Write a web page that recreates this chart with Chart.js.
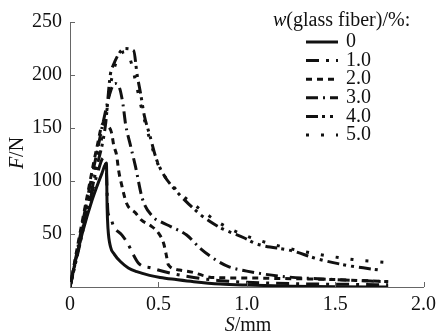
<!DOCTYPE html>
<html>
<head>
<meta charset="utf-8">
<script src="https://cdn.jsdelivr.net/npm/chart.js@4.4.1/dist/chart.umd.min.js"></script>
<style>
  body { margin: 0; background: #fff; }
</style>
</head>
<body>
<canvas id="forceChart" width="442" height="335"></canvas>
<script>
'use strict';

// w(glass fiber)/% series labels
var fiberLabels = ['0', '1.0', '2.0', '3.0', '4.0', '5.0'];

// S/mm and F/N
var s0 = [0, 0.03, 0.07, 0.125, 0.18, 0.206, 0.21, 0.215, 0.229, 0.25, 0.285, 0.33, 0.378, 0.45, 0.51, 0.6, 0.7, 0.85, 1.0, 1.25, 1.5, 1.8];
var f0 = [0, 24, 51, 82, 107, 117, 75, 55, 38, 31, 24, 18, 14.5, 11, 9, 7, 5, 2.8, 1.8, 0.8, 0.3, 0];

var s1 = [0, 0.05, 0.1, 0.15, 0.19, 0.205, 0.215, 0.228, 0.247, 0.294, 0.33, 0.36, 0.39, 0.46, 0.57, 0.7, 0.85, 1.0, 1.3, 1.6, 1.8];
var f1 = [0, 38, 74, 104, 122, 112, 70, 66, 57, 49, 40, 30, 22, 18, 13, 9, 6, 4.5, 3, 2.5, 2];

var s2 = [0, 0.05, 0.1, 0.15, 0.19, 0.215, 0.236, 0.247, 0.264, 0.275, 0.29, 0.32, 0.37, 0.405, 0.455, 0.5, 0.53, 0.545, 0.556, 0.62, 0.69, 0.75, 0.8, 1.0, 1.2, 1.5, 1.8];
var f2 = [0, 45, 88, 130, 155, 152, 145, 134, 124, 110, 98, 79, 70, 63, 58, 51, 41, 30, 21, 16, 14, 11, 9, 8.5, 8, 7, 5];

var s3 = [0, 0.05, 0.1, 0.15, 0.2, 0.23, 0.255, 0.28, 0.3, 0.315, 0.34, 0.37, 0.41, 0.47, 0.52, 0.57, 0.66, 0.74, 0.83, 0.9, 1.0, 1.2, 1.5, 1.8];
var f3 = [0, 42, 85, 125, 165, 185, 192, 188, 172, 153, 135, 114, 83, 66, 61, 57, 49, 36, 25, 19, 15, 10, 7, 5];

var s4 = [0, 0.05, 0.1, 0.15, 0.2, 0.228, 0.247, 0.28, 0.31, 0.36, 0.38, 0.4, 0.42, 0.45, 0.49, 0.53, 0.62, 0.68, 0.74, 0.79, 0.85, 0.99, 1.05, 1.26, 1.39, 1.58, 1.75];
var f4 = [0, 36, 74, 112, 152, 200, 210, 221, 225, 223, 200, 182, 162, 144, 120, 106, 87, 77, 68, 62, 56, 46, 41, 34, 27, 20, 16];

var s5 = [0, 0.05, 0.1, 0.15, 0.2, 0.24, 0.28, 0.31, 0.34, 0.37, 0.4, 0.45, 0.5, 0.6, 0.7, 0.85, 1.0, 1.2, 1.4, 1.6, 1.8];
var f5 = [0, 38, 78, 118, 158, 200, 218, 222, 215, 195, 172, 140, 115, 92, 78, 60, 48, 38, 31, 26, 23];

var xTicks = [0, 0.5, 1.0, 1.5, 2.0];
var yTicks = [50, 100, 150, 200, 250];

var seriesS = [s0, s1, s2, s3, s4, s5];
var seriesF = [f0, f1, f2, f3, f4, f5];
var dashes = [[], [13, 7, 3, 7], [6, 5], [12, 5, 2, 5], [12, 4, 3, 5, 3, 5], [3, 12]];

var serif = '"Liberation Serif", "DejaVu Serif", serif';

function drawMixed(ctx, parts, x, y, align) {
  var total = 0;
  parts.forEach(function (p) {
    ctx.font = p[0];
    total += ctx.measureText(p[1]).width;
  });
  var cx = align === 'left' ? x : x - total / 2;
  ctx.textAlign = 'left';
  ctx.textBaseline = 'middle';
  parts.forEach(function (p) {
    ctx.font = p[0];
    ctx.fillText(p[1], cx, y);
    cx += ctx.measureText(p[1]).width;
  });
}

var decorations = {
  id: 'decorations',
  afterDraw: function (chart) {
    var ctx = chart.ctx;
    var area = chart.chartArea;
    var xs = chart.scales.x;
    var ys = chart.scales.y;
    ctx.save();

    // inward tick marks
    ctx.strokeStyle = '#666';
    ctx.lineWidth = 1;
    yTicks.forEach(function (v) {
      var py = Math.round(ys.getPixelForValue(v)) + 0.5;
      ctx.beginPath();
      ctx.moveTo(area.left, py);
      ctx.lineTo(area.left + 5, py);
      ctx.stroke();
    });
    xTicks.forEach(function (v) {
      var px = Math.round(xs.getPixelForValue(v)) + 0.5;
      ctx.beginPath();
      ctx.moveTo(px, area.bottom);
      ctx.lineTo(px, area.bottom - 5);
      ctx.stroke();
    });

    ctx.fillStyle = '#111';
    drawMixed(ctx, [['italic 20px ' + serif, 'S'], ['20px ' + serif, '/mm']], 248, 326);
    ctx.save();
    ctx.translate(18, 153);
    ctx.rotate(-Math.PI / 2);
    drawMixed(ctx, [['italic 20px ' + serif, 'F'], ['20px ' + serif, '/N']], 0, 0);
    ctx.restore();

    // legend
    drawMixed(ctx, [['italic 20px ' + serif, 'w'], ['20px ' + serif, '(glass fiber)/%:']], 273, 21, 'left');
    chart.data.datasets.forEach(function (ds, i) {
      var ry = 42 + i * 18.6;
      ctx.strokeStyle = ds.borderColor;
      ctx.lineWidth = ds.borderWidth;
      ctx.setLineDash(ds.borderDash);
      ctx.beginPath();
      ctx.moveTo(306, ry);
      ctx.lineTo(338, ry);
      ctx.stroke();
      ctx.setLineDash([]);
      ctx.font = '20px ' + serif;
      ctx.textAlign = 'left';
      ctx.textBaseline = 'middle';
      ctx.fillText(ds.label, 346, ry);
    });
    ctx.restore();
  }
};

var datasets = fiberLabels.map(function (label, i) {
  return {
    label: label,
    data: seriesS[i].map(function (s, k) { return { x: s, y: seriesF[i][k] }; }),
    borderColor: '#111',
    borderWidth: 3,
    borderDash: dashes[i],
    pointRadius: 0,
    showLine: true,
    fill: false,
    cubicInterpolationMode: 'monotone'
  };
});

var ctx = document.getElementById('forceChart');
var forceChart = new Chart(ctx, {
  type: 'scatter',
  data: { datasets: datasets },
  options: {
    responsive: false,
    animation: false,
    devicePixelRatio: 1,
    layout: { padding: { left: 0, top: 22, right: 15, bottom: 0 } },
    plugins: {
      legend: { display: false },
      tooltip: { enabled: false }
    },
    scales: {
      x: {
        type: 'linear',
        min: 0,
        max: 2.0,
        afterBuildTicks: function (scale) {
          scale.ticks = xTicks.map(function (v) { return { value: v }; });
        },
        afterFit: function (scale) { scale.height = 48; },
        grid: { display: false, drawTicks: false },
        border: { display: true, color: '#666', width: 1 },
        ticks: {
          padding: 6,
          color: '#111',
          font: { family: serif, size: 20 },
          maxRotation: 0,
          callback: function (value) { return value === 0 ? '0' : value.toFixed(1); }
        }
      },
      y: {
        type: 'linear',
        min: 0,
        max: 250,
        afterBuildTicks: function (scale) {
          scale.ticks = yTicks.map(function (v) { return { value: v }; });
        },
        afterFit: function (scale) { scale.width = 70; },
        grid: { display: false, drawTicks: false },
        border: { display: true, color: '#666', width: 1 },
        ticks: {
          padding: 8,
          color: '#111',
          font: { family: serif, size: 20 }
        }
      }
    }
  },
  plugins: [decorations]
});
</script>
</body>
</html>
